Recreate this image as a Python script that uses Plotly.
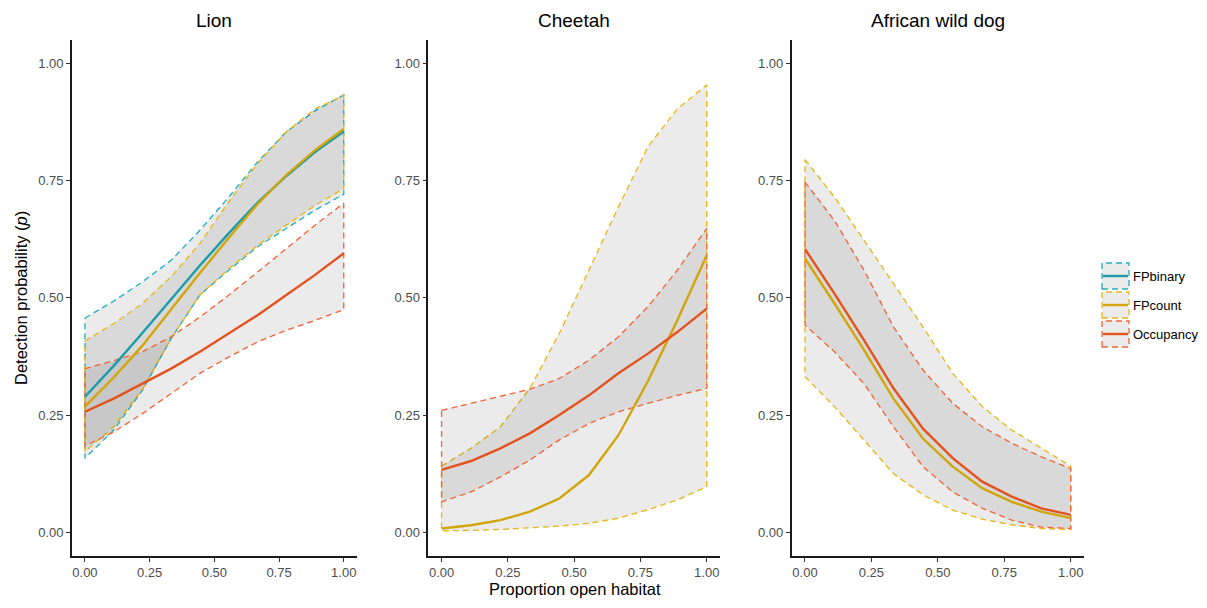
import plotly.graph_objects as go

# ---------------- data ----------------
x_vals = [0.0, 0.111, 0.222, 0.333, 0.444, 0.556, 0.667, 0.778, 0.889, 1.0]

panels = ["Lion", "Cheetah", "African wild dog"]
models = ["FPbinary", "FPcount", "Occupancy"]

# Lion
lion_fpbinary_mean = [0.289, 0.355, 0.425, 0.497, 0.569, 0.638, 0.703, 0.760, 0.811, 0.855]
lion_fpbinary_upper = [0.457, 0.493, 0.534, 0.580, 0.644, 0.715, 0.790, 0.854, 0.899, 0.933]
lion_fpbinary_lower = [0.158, 0.218, 0.303, 0.413, 0.506, 0.559, 0.609, 0.648, 0.687, 0.721]
lion_fpcount_mean = [0.268, 0.330, 0.398, 0.475, 0.553, 0.628, 0.700, 0.762, 0.815, 0.860]
lion_fpcount_upper = [0.408, 0.445, 0.488, 0.545, 0.616, 0.705, 0.786, 0.854, 0.903, 0.932]
lion_fpcount_lower = [0.172, 0.225, 0.305, 0.413, 0.506, 0.562, 0.612, 0.655, 0.697, 0.733]
lion_occ_mean = [0.257, 0.285, 0.317, 0.349, 0.385, 0.424, 0.463, 0.506, 0.549, 0.595]
lion_occ_upper = [0.349, 0.366, 0.385, 0.417, 0.459, 0.506, 0.555, 0.605, 0.655, 0.702]
lion_occ_lower = [0.184, 0.214, 0.253, 0.296, 0.339, 0.374, 0.406, 0.431, 0.452, 0.475]

# Cheetah
cheetah_fpcount_mean = [0.008, 0.015, 0.026, 0.044, 0.072, 0.122, 0.207, 0.322, 0.452, 0.591]
cheetah_fpcount_upper = [0.141, 0.179, 0.225, 0.307, 0.424, 0.559, 0.694, 0.822, 0.903, 0.954]
cheetah_fpcount_lower = [0.003, 0.004, 0.006, 0.009, 0.013, 0.019, 0.030, 0.048, 0.069, 0.097]
cheetah_occ_mean = [0.133, 0.152, 0.179, 0.211, 0.250, 0.292, 0.339, 0.381, 0.427, 0.477]
cheetah_occ_upper = [0.260, 0.275, 0.289, 0.305, 0.328, 0.367, 0.417, 0.481, 0.559, 0.648]
cheetah_occ_lower = [0.065, 0.086, 0.118, 0.154, 0.197, 0.232, 0.257, 0.275, 0.292, 0.307]

# African wild dog
dog_fpcount_mean = [0.584, 0.488, 0.389, 0.285, 0.200, 0.140, 0.094, 0.065, 0.044, 0.030]
dog_fpcount_upper = [0.795, 0.715, 0.623, 0.530, 0.438, 0.339, 0.268, 0.218, 0.179, 0.141]
dog_fpcount_lower = [0.332, 0.268, 0.197, 0.125, 0.080, 0.047, 0.028, 0.016, 0.008, 0.006]
dog_occ_mean = [0.604, 0.509, 0.410, 0.307, 0.221, 0.158, 0.108, 0.076, 0.051, 0.037]
dog_occ_upper = [0.747, 0.665, 0.559, 0.438, 0.346, 0.275, 0.225, 0.190, 0.161, 0.136]
dog_occ_lower = [0.442, 0.385, 0.317, 0.225, 0.140, 0.086, 0.051, 0.026, 0.011, 0.008]

tick_vals = [0.0, 0.25, 0.5, 0.75, 1.0]
tick_text = ["0.00", "0.25", "0.50", "0.75", "1.00"]

x_title = "Proportion open habitat"
y_title = "Detection probability (<i>p</i>)"

# ---------------- styling ----------------
W, H = 1207, 608
FONT = "Liberation Sans, Arial, sans-serif"
line_col = {"FPbinary": "#1B9CA8", "FPcount": "#D1A50C", "Occupancy": "#E4521E"}
dash_col = {"FPbinary": "#26B0BF", "FPcount": "#E6B81C", "Occupancy": "#F0663A"}
ribbon_fill = "rgba(60,60,60,0.10)"
DASH = "6px,4px"
DASH_W = 1.35
LINE_W = 2.4

series = {
    0: {"FPbinary": (lion_fpbinary_mean, lion_fpbinary_upper, lion_fpbinary_lower),
        "FPcount": (lion_fpcount_mean, lion_fpcount_upper, lion_fpcount_lower),
        "Occupancy": (lion_occ_mean, lion_occ_upper, lion_occ_lower)},
    1: {"FPcount": (cheetah_fpcount_mean, cheetah_fpcount_upper, cheetah_fpcount_lower),
        "Occupancy": (cheetah_occ_mean, cheetah_occ_upper, cheetah_occ_lower)},
    2: {"FPcount": (dog_fpcount_mean, dog_fpcount_upper, dog_fpcount_lower),
        "Occupancy": (dog_occ_mean, dog_occ_upper, dog_occ_lower)},
}

# panel pixel boxes (left, right)
px_boxes = [(72, 356.7), (428.3, 720.0), (791.7, 1084.0)]
top_px, bot_px = 40.0, 555.7

fig = go.Figure()

for p in range(3):
    ax = "" if p == 0 else str(p + 1)
    xref, yref = "x" + ax, "y" + ax
    # ribbons first
    for m in models:
        if m not in series[p]:
            continue
        mean, up, lo = series[p][m]
        xs = x_vals + x_vals[::-1] + [x_vals[0]]
        ys = up + lo[::-1] + [up[0]]
        fig.add_trace(go.Scatter(
            x=xs, y=ys, xaxis=xref, yaxis=yref, mode="lines",
            fill="toself", fillcolor=ribbon_fill,
            line=dict(color=dash_col[m], width=DASH_W, dash=DASH),
            showlegend=False, hoverinfo="skip"))
    for m in models:
        if m not in series[p]:
            continue
        mean, up, lo = series[p][m]
        fig.add_trace(go.Scatter(
            x=x_vals, y=mean, xaxis=xref, yaxis=yref, mode="lines",
            line=dict(color=line_col[m], width=LINE_W),
            showlegend=False, name=m))

layout = dict(
    width=W, height=H, margin=dict(l=0, r=0, t=0, b=0),
    paper_bgcolor="white", plot_bgcolor="white",
    font=dict(family=FONT, color="black"),
    showlegend=False,
)
y_dom = [1 - bot_px / H, 1 - top_px / H]
annotations = []
for p in range(3):
    ax = "" if p == 0 else str(p + 1)
    l, r = px_boxes[p]
    common = dict(showgrid=False, zeroline=False, showline=True, linecolor="#1a1a1a",
                  linewidth=1.6, ticks="outside", ticklen=4, tickwidth=1.1,
                  tickcolor="#333333", tickvals=tick_vals, ticktext=tick_text,
                  tickfont=dict(family=FONT, size=13, color="#4D4D4D"),
                  range=[-0.05, 1.05], fixedrange=True)
    layout["xaxis" + ax] = dict(common, domain=[l / W, r / W],
                                anchor="y" + ax)
    layout["yaxis" + ax] = dict(common, domain=y_dom, anchor="x" + ax)
    annotations.append(dict(text=panels[p], xref="paper", yref="paper",
                            x=(l + r) / 2 / W, y=1 - 20 / H, showarrow=False,
                            xanchor="center", yanchor="middle",
                            font=dict(family=FONT, size=19, color="black")))

annotations.append(dict(text=x_title, xref="paper", yref="paper",
                        x=575 / W, y=1 - 589 / H, showarrow=False,
                        xanchor="center", yanchor="middle",
                        font=dict(family=FONT, size=16.5, color="black")))
annotations.append(dict(text=y_title, xref="paper", yref="paper",
                        x=21 / W, y=1 - 298 / H, showarrow=False, textangle=-90,
                        xanchor="center", yanchor="middle",
                        font=dict(family=FONT, size=16.5, color="black")))

# custom legend (keys: grey fill, dashed coloured border, solid line)
shapes = []
key_boxes = [(263, 289), (292, 318), (321, 347)]
kx0, kx1 = 1102, 1129
for m, (t, b) in zip(models, key_boxes):
    shapes.append(dict(type="rect", xref="paper", yref="paper",
                       x0=kx0 / W, x1=kx1 / W, y0=1 - b / H, y1=1 - t / H,
                       fillcolor=ribbon_fill,
                       line=dict(color=dash_col[m], width=DASH_W, dash=DASH)))
    mid = (t + b) / 2
    shapes.append(dict(type="line", xref="paper", yref="paper",
                       x0=(kx0 + 1) / W, x1=(kx1 - 1) / W,
                       y0=1 - mid / H, y1=1 - mid / H,
                       line=dict(color=line_col[m], width=LINE_W)))
    annotations.append(dict(text=m, xref="paper", yref="paper",
                            x=(kx1 + 2) / W, y=1 - mid / H, showarrow=False,
                            xanchor="left", yanchor="middle",
                            font=dict(family=FONT, size=13, color="black")))

layout["annotations"] = annotations
layout["shapes"] = shapes
fig.update_layout(**layout)
fig.write_html(
    "out.html",
    config={"displayModeBar": False},
    post_script="document.body.style.margin='0px';document.body.style.overflow='hidden';",
)
